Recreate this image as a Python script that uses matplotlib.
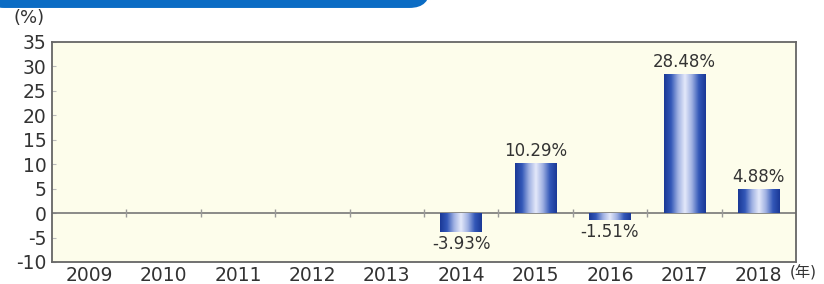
import numpy as np
import matplotlib
matplotlib.use('Agg')
import matplotlib.pyplot as plt
from matplotlib.colors import LinearSegmentedColormap
from matplotlib.patches import FancyBboxPatch

plt.rcParams['font.family'] = ['DejaVu Sans', 'Noto Sans CJK JP']

years = ['2009', '2010', '2011', '2012', '2013', '2014', '2015', '2016', '2017', '2018']
values = [np.nan, np.nan, np.nan, np.nan, np.nan, -3.93, 10.29, -1.51, 28.48, 4.88]
labels = ['', '', '', '', '', '-3.93%', '10.29%', '-1.51%', '28.48%', '4.88%']
yticks = [-10, -5, 0, 5, 10, 15, 20, 25, 30, 35]

txt = '#333333'
grid_c = '#777777'
cmap = LinearSegmentedColormap.from_list(
    'bar', ['#1a3896', '#3358b8', '#9fb0e2', '#e4e9fa', '#9fb0e2', '#3358b8', '#1a3896'])

fig = plt.figure(figsize=(8.24, 2.84), dpi=100)
ax = fig.add_axes([0.063, 0.0775, 0.903, 0.775])
ax.set_facecolor('#fdfdeb')

x = np.arange(len(years))
w = 0.56
bars = ax.bar(x, np.nan_to_num(values), width=w, color='none', edgecolor='none', zorder=3)
grad = np.linspace(0, 1, 256).reshape(1, -1)
for b, v in zip(bars, values):
    if np.isnan(v):
        continue
    y0, y1 = sorted([0, v])
    im = ax.imshow(grad, cmap=cmap, aspect='auto', zorder=3,
                   extent=[b.get_x(), b.get_x() + w, y0, y1])
    im.set_clip_path(b)

for xi, v, lab in zip(x, values, labels):
    if np.isnan(v):
        continue
    if v >= 0:
        ax.text(xi, v + 0.6, lab, ha='center', va='bottom', fontsize=12, color=txt)
    else:
        ax.text(xi, v - 0.6, lab, ha='center', va='top', fontsize=12, color=txt)

ax.axhline(0, color=grid_c, lw=1.2, zorder=2)
ax.vlines(x[:-1] + 0.5, -0.8, 0.9, color='#999999', lw=1, zorder=2)

ax.set_xlim(-0.5, len(years) - 0.5)
ax.set_ylim(-10, 35)
ax.set_yticks(yticks)
ax.set_yticklabels([str(t) for t in yticks], fontsize=13.5, color=txt)
ax.set_xticks(x)
ax.set_xticklabels(years, fontsize=13.5, color=txt)
ax.tick_params(axis='x', length=0, pad=3)
ax.tick_params(axis='y', direction='in', length=3, color='#bbbbbb', pad=4)
for s in ax.spines.values():
    s.set_color('#666666')
    s.set_linewidth(1.3)

fig.text(0.016, 0.935, '(%)', fontsize=13, color=txt, va='center', ha='left')
fig.text(0.958, 0.04, '(年)', fontsize=11, color=txt, va='center', ha='left')

hdr = FancyBboxPatch((-0.02, 0.972), 0.542, 0.1, boxstyle='round,pad=0,rounding_size=0.025',
                     transform=fig.transFigure, facecolor='#0b6cc4', edgecolor='none',
                     mutation_aspect=2.9)
fig.patches.append(hdr)

fig.savefig('out.png', dpi=100)
